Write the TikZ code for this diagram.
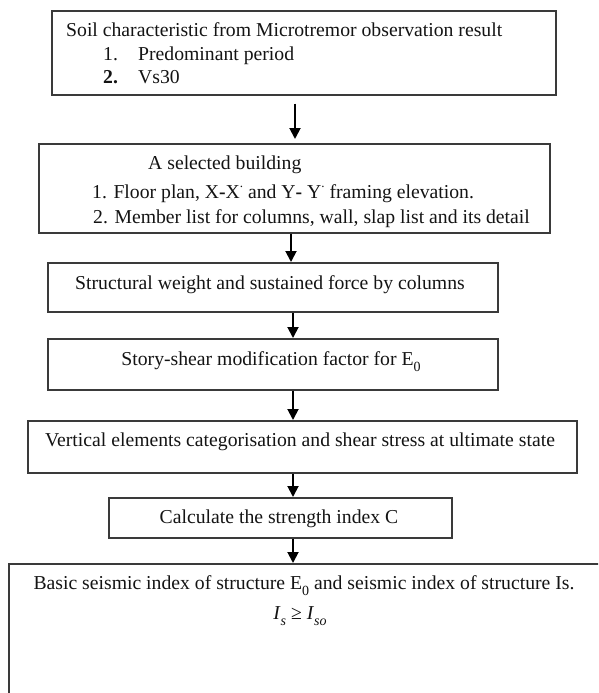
\documentclass[tikz,border=0pt]{standalone}
\usepackage{fontspec}
\setmainfont{Liberation Serif}
\usetikzlibrary{arrows.meta}
\definecolor{boxgray}{HTML}{3A3A3A}
\definecolor{inkcol}{HTML}{141414}
\newcommand{\fs}{\fontsize{19.7}{24}\selectfont}
\newcommand{\subz}[1]{\raisebox{-6pt}{\fontsize{14}{14}\selectfont #1}}
\newcommand{\primedot}{\raisebox{11pt}{\fontsize{13}{13}\selectfont .}}
\begin{document}
\begin{tikzpicture}[x=1pt,y=-1pt,
  box/.style={draw=boxgray, line width=1.6pt, rectangle, inner sep=0pt, anchor=north west},
  txt/.style={inner sep=0pt, font=\fs, text=inkcol},
  arr/.style={line width=1.9pt, draw=black, -{Triangle[width=11pt,length=11pt]}}]
\useasboundingbox (0,0) rectangle (598,693);
\fill[white] (0,0) rectangle (598,693);
\begin{scope}
\clip (0,0) rectangle (598,693);
% boxes
\node[box, minimum width=504, minimum height=84] (b1) at (51,10) {};
\node[box, minimum width=511, minimum height=89] (b2) at (38,143) {};
\node[box, minimum width=450, minimum height=49] (b3) at (47,262) {};
\node[box, minimum width=450, minimum height=51] (b4) at (47,338) {};
\node[box, minimum width=549, minimum height=52] (b5) at (27,420) {};
\node[box, minimum width=343, minimum height=40] (b6) at (108,497) {};
\node[box, minimum width=640, minimum height=200] (b7) at (8,563) {};
% texts
\node[txt, anchor=base west] (t1a) at (66,37) {Soil characteristic from Microtremor observation result};
\node[txt, anchor=base west] (t1b) at (103,61) {\makebox[35pt][l]{1.}Predominant period};
\node[txt, anchor=base west] (t1c) at (103,84) {\makebox[35pt][l]{\textbf{2.}}Vs30};
\node[txt, anchor=base west] (t2a) at (148,169) {A selected building};
\node[txt, anchor=base west] (t2b) at (92,198) {1. Floor plan, X\textbf{-}X\primedot\ and Y\textbf{-} Y\primedot\ framing elevation.};
\node[txt, anchor=base west] (t2c) at (93,223) {2. Member list for columns, wall, slap list and its detail};
\node[txt, anchor=base] (t3) at (270,289) {Structural weight and sustained force by columns};
\node[txt, anchor=base] (t4) at (271,365) {Story-shear modification factor for E\subz{0}};
\node[txt, anchor=base] (t5) at (300,446) {Vertical elements categorisation and shear stress at ultimate state};
\node[txt, anchor=base] (t6) at (279,523) {Calculate the strength index C};
\node[txt, anchor=base] (t7a) at (304,589) {Basic seismic index of structure E\subz{0} and seismic index of structure Is.};
\node[txt, anchor=base] (t7b) at (300,619) {\textit{I}\subz{\textit{s}} ≥ \textit{I}\subz{\textit{so}}};
% arrow columns
\coordinate (a1) at (295,0);
\coordinate (a2) at (291,0);
\coordinate (a3) at (293,0);
\draw[arr, shorten <=8pt, shorten >=4pt] (b1.south -| a1) -- (b2.north -| a1);
\draw[arr] (b2.south -| a2) -- (b3.north -| a2);
\draw[arr] (b3.south -| a3) -- (b4.north -| a3);
\draw[arr] (b4.south -| a3) -- (b5.north -| a3);
\draw[arr] (b5.south -| a3) -- (b6.north -| a3);
\draw[arr] (b6.south -| a3) -- (b7.north -| a3);
\end{scope}
\end{tikzpicture}
\end{document}
